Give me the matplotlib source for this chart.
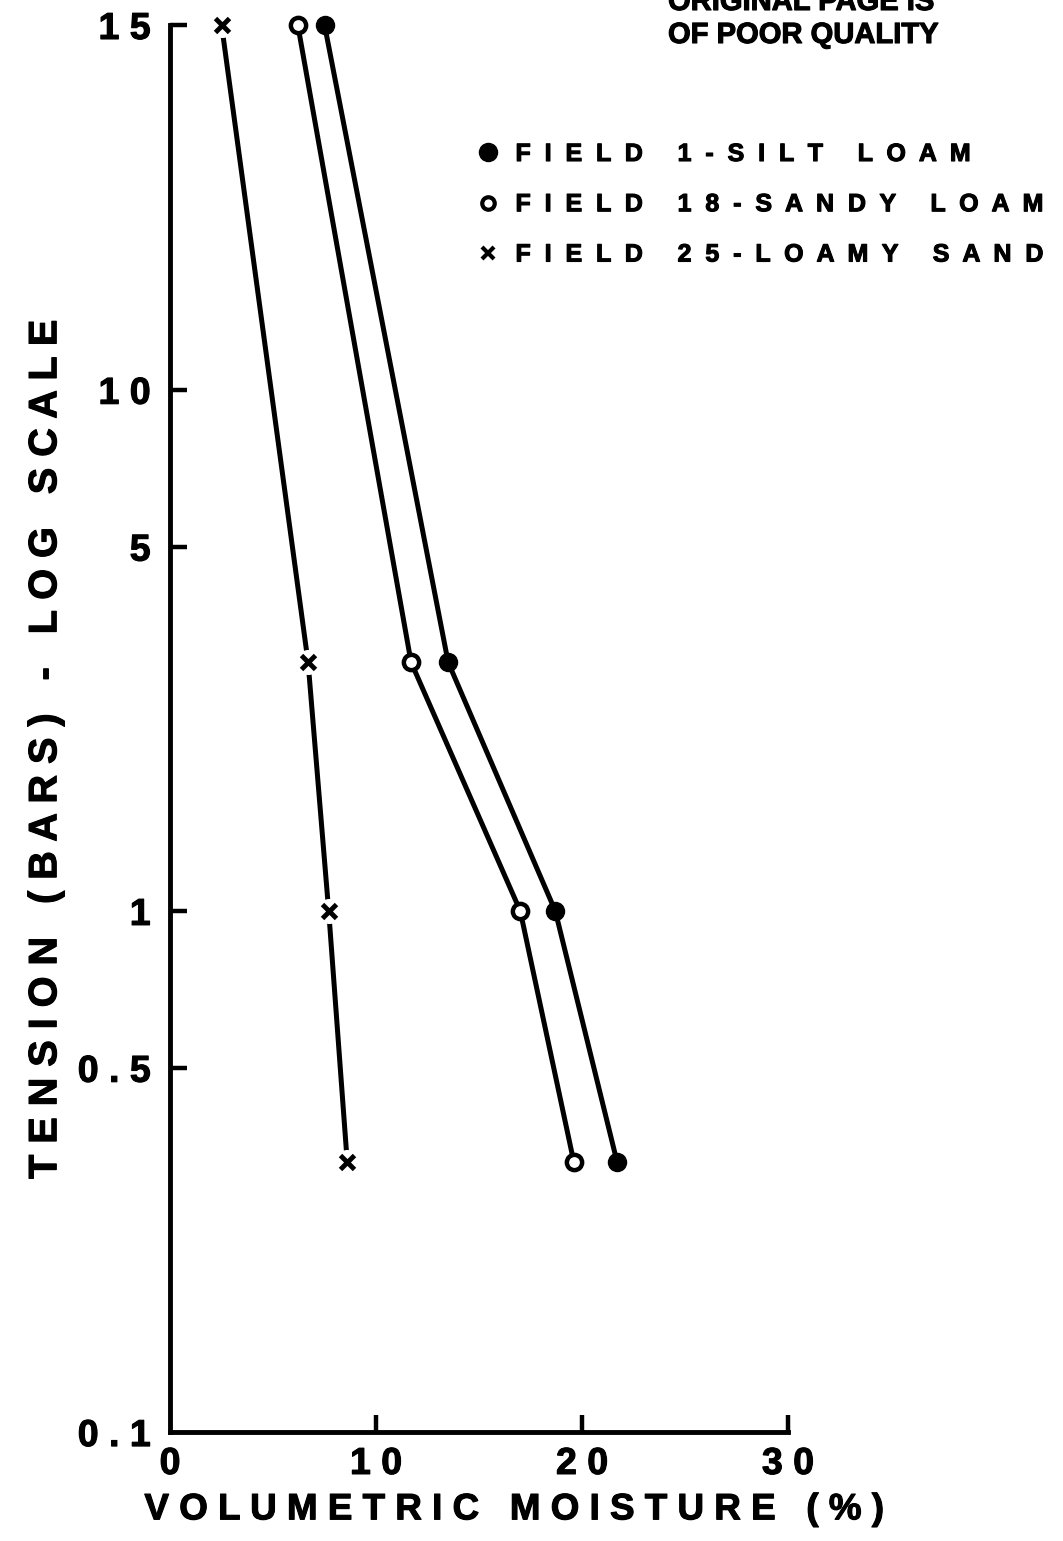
import numpy as np
import matplotlib
matplotlib.use('Agg')
import matplotlib.pyplot as plt
import matplotlib.patheffects as pe
from matplotlib.lines import Line2D
from matplotlib.text import Text
from matplotlib.ticker import NullLocator

plt.rcParams['font.family'] = ['Liberation Sans', 'DejaVu Sans']
plt.rcParams['font.weight'] = 'bold'

# Soil moisture retention data: tension (bars) vs volumetric moisture (%)
tension = [15, 3, 1, 0.33]
silt_loam = [7.5, 13.5, 18.7, 21.7]     # Field 1
sandy_loam = [6.2, 11.7, 17.0, 19.6]    # Field 18
loamy_sand = [2.5, 6.7, 7.7, 8.6]       # Field 25

x_ticks = [0, 10, 20, 30]
y_ticks = [0.1, 0.5, 1, 5, 10, 15]
y_tick_labels = ['0.1', '0.5', '1', '5', '10', '15']


def spaced(text, gap=1, word=3):
    """Widen lettering by putting spaces between characters."""
    words = text.split(' ')
    return (' ' * word).join((' ' * gap).join(w) for w in words)


# log scale up to 10 bars, the 10-15 bar segment is drawn stretched
K = 0.14


def fwd(v):
    v = np.asarray(v, dtype=float)
    lv = np.log10(np.clip(v, 1e-6, None))
    return np.where(v > 10, 1 + (v - 10) * K, lv)


def inv(u):
    u = np.asarray(u, dtype=float)
    return np.where(u > 1, 10 + (u - 1) / K, 10 ** np.clip(u, -10, 1))


fig = plt.figure(figsize=(10.63, 15.41), dpi=100)
ax = fig.add_axes([0.160, 0.0707, 0.5813, 0.9131])

ax.set_yscale('function', functions=(fwd, inv))
ax.set_xlim(0, 30)
ax.set_ylim(0.1, 15)

lw = 3.6
ax.plot(silt_loam, tension, color='black', lw=lw, marker='o', ms=13,
        clip_on=False, zorder=3)
ax.plot(sandy_loam, tension, color='black', lw=lw, marker='o', ms=11,
        mfc='white', mec='black', mew=3.2, clip_on=False, zorder=3)
ax.plot(loamy_sand, tension, color='black', lw=lw, clip_on=False, zorder=2)
ax.plot(loamy_sand, tension, ls='none', marker='o', ms=17, color='white',
        clip_on=False, zorder=3)
ax.plot(loamy_sand, tension, ls='none', marker='x', ms=10, mew=3.5,
        color='black', clip_on=False, zorder=4)

# axes frame: only left and bottom, inward ticks
for side in ['top', 'right']:
    ax.spines[side].set_visible(False)
for side in ['left', 'bottom']:
    ax.spines[side].set_linewidth(3.5)

ax.set_xticks(x_ticks)
ax.set_xticklabels([spaced(str(t)) for t in x_ticks])
ax.set_yticks(y_ticks)
ax.set_yticklabels([spaced(t) for t in y_tick_labels])
ax.yaxis.set_minor_locator(NullLocator())
ax.xaxis.set_minor_locator(NullLocator())
ax.tick_params(axis='both', direction='in', length=12, width=3.2,
               labelsize=27)
ax.tick_params(axis='x', pad=10)
ax.tick_params(axis='y', pad=14)
ax.xaxis.get_major_ticks()[0].tick1line.set_visible(False)
ax.yaxis.get_major_ticks()[0].tick1line.set_visible(False)

ax.set_xlabel(spaced('VOLUMETRIC MOISTURE (%)'), fontsize=26.5,
              fontweight='bold', va='center')
ax.xaxis.set_label_coords(0.557, -0.0553)
ax.set_ylabel(spaced('TENSION (BARS) - LOG SCALE'), fontsize=28.5,
              fontweight='bold', va='center')
ax.yaxis.set_label_coords(-0.202, 0.485)

# legend
handles = [
    Line2D([], [], ls='none', marker='o', ms=13, color='black'),
    Line2D([], [], ls='none', marker='o', ms=9, mfc='white', mec='black',
           mew=3),
    Line2D([], [], ls='none', marker='x', ms=8, mew=3, color='black'),
]
labels = [spaced('FIELD 1-SILT LOAM', 2, 5),
          spaced('FIELD 18-SANDY LOAM', 2, 5),
          spaced('FIELD 25-LOAMY SAND', 2, 5)]
fig.legend(handles, labels, loc='upper left',
           bbox_to_anchor=(478 / 1063, 1 - 142 / 1541),
           bbox_transform=fig.transFigure, frameon=False, fontsize=18,
           handlelength=0.8, handletextpad=0.7, labelspacing=1.05,
           borderpad=0, borderaxespad=0)

# page stamp in the upper right
fig.text(668 / 1063, 1 - 10 / 1541, 'ORIGINAL PAGE IS', fontsize=21,
         fontweight='bold', ha='left', va='baseline')
fig.text(668 / 1063, 1 - 43 / 1541, 'OF POOR QUALITY', fontsize=21,
         fontweight='bold', ha='left', va='baseline')

# slightly heavier strokes for the stencil-like lettering
for t in fig.findobj(Text):
    t.set_path_effects([pe.withStroke(linewidth=0.8, foreground='black')])

fig.savefig('out.png', dpi=100)
